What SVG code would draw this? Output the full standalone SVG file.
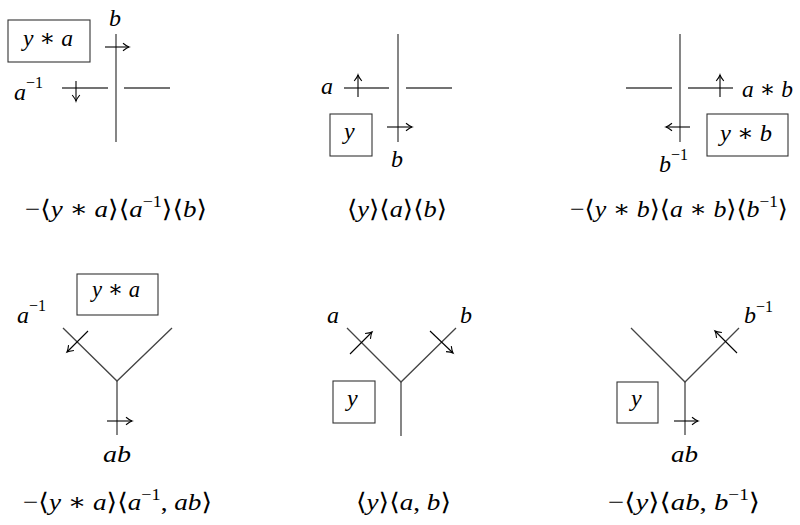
<svg xmlns="http://www.w3.org/2000/svg" width="800" height="525" viewBox="0 0 800 525">
<style>
text{font-family:"Liberation Serif","Times New Roman","DejaVu Serif",serif;font-size:24px;fill:#000}
.i{font-style:italic}
.sup{font-size:16px}
.ln{stroke:#444;stroke-width:1.3;fill:none}
.ar{stroke:#000;stroke-width:1.1;fill:none;marker-end:url(#ah)}
.bx{stroke:#333;stroke-width:1.1;fill:none}
</style>
<defs>
<marker id="ah" markerUnits="userSpaceOnUse" markerWidth="12" markerHeight="12" viewBox="-8 -6 10 12" refX="0" refY="0" orient="auto">
<path d="M-6,-3.8 Q-2,-0.6 0,0 Q-2,0.6 -6,3.8" stroke="#000" stroke-width="1.1" fill="none"/>
</marker>
</defs>
<rect width="800" height="525" fill="#fff"/>

<g id="connectors">
<line class="ln" x1="116" y1="34" x2="116" y2="142"/>
<line class="ln" x1="62" y1="88" x2="108" y2="88"/>
<line class="ln" x1="124" y1="88" x2="170" y2="88"/>
<line class="ar" x1="105" y1="47" x2="129" y2="47"/>
<line class="ar" x1="76" y1="81" x2="76" y2="101"/>
<line class="ln" x1="398" y1="34" x2="398" y2="142"/>
<line class="ln" x1="344" y1="88" x2="389" y2="88"/>
<line class="ln" x1="406" y1="88" x2="452" y2="88"/>
<line class="ar" x1="358" y1="97" x2="358" y2="75"/>
<line class="ar" x1="387" y1="127" x2="412" y2="127"/>
<line class="ln" x1="680" y1="34" x2="680" y2="142"/>
<line class="ln" x1="626" y1="88" x2="672" y2="88"/>
<line class="ln" x1="688" y1="88" x2="733" y2="88"/>
<line class="ar" x1="720" y1="97" x2="720" y2="75"/>
<line class="ar" x1="690" y1="127" x2="666" y2="127"/>
<polyline class="ln" points="63,328 117,381 172,328"/>
<line class="ln" x1="117" y1="381" x2="117" y2="435"/>
<line class="ar" x1="88" y1="331" x2="67" y2="352"/>
<line class="ar" x1="107" y1="421" x2="132" y2="421"/>
<polyline class="ln" points="347,328 401,382 456,328"/>
<line class="ln" x1="401" y1="382" x2="401" y2="436"/>
<line class="ar" x1="350" y1="354" x2="372" y2="332"/>
<line class="ar" x1="430" y1="331" x2="453" y2="353"/>
<polyline class="ln" points="631,328 685,382 739,328"/>
<line class="ln" x1="685" y1="382" x2="685" y2="435"/>
<line class="ar" x1="737" y1="353" x2="715" y2="331"/>
<line class="ar" x1="674" y1="421" x2="698" y2="421"/>
</g>

<g id="box1"><rect class="bx" x="8" y="20" width="82" height="42"/><text x="23" y="46" textLength="50" lengthAdjust="spacingAndGlyphs"><tspan class="i">y</tspan> ∗ <tspan class="i">a</tspan></text></g>
<g id="label1b"><text class="i" x="109" y="26">b</text></g>
<g id="label1a"><text x="14" y="100"><tspan class="i">a</tspan><tspan class="sup" dy="-12">−1</tspan></text></g>
<g id="formula1"><text x="25" y="217" textLength="182" lengthAdjust="spacingAndGlyphs">−⟨<tspan class="i">y</tspan> ∗ <tspan class="i">a</tspan>⟩⟨<tspan class="i">a</tspan><tspan class="sup" dy="-10">−1</tspan><tspan dy="10">⟩⟨</tspan><tspan class="i">b</tspan>⟩</text></g>

<g id="box2"><rect class="bx" x="330" y="114" width="42" height="42"/><text class="i" x="344" y="139">y</text></g>
<g id="label2a"><text class="i" x="321" y="94">a</text></g>
<g id="label2b"><text class="i" x="391" y="167">b</text></g>
<g id="formula2"><text x="347" y="217" textLength="100" lengthAdjust="spacingAndGlyphs">⟨<tspan class="i">y</tspan>⟩⟨<tspan class="i">a</tspan>⟩⟨<tspan class="i">b</tspan>⟩</text></g>

<g id="box3"><rect class="bx" x="707" y="114" width="81" height="42"/><text x="720" y="141" textLength="52" lengthAdjust="spacingAndGlyphs"><tspan class="i">y</tspan> ∗ <tspan class="i">b</tspan></text></g>
<g id="label3ab"><text x="742" y="97" textLength="51" lengthAdjust="spacingAndGlyphs"><tspan class="i">a</tspan> ∗ <tspan class="i">b</tspan></text></g>
<g id="label3b"><text x="659" y="172"><tspan class="i">b</tspan><tspan class="sup" dy="-12">−1</tspan></text></g>
<g id="formula3"><text x="570" y="217" textLength="218" lengthAdjust="spacingAndGlyphs">−⟨<tspan class="i">y</tspan> ∗ <tspan class="i">b</tspan>⟩⟨<tspan class="i">a</tspan> ∗ <tspan class="i">b</tspan>⟩⟨<tspan class="i">b</tspan><tspan class="sup" dy="-10">−1</tspan><tspan dy="10">⟩</tspan></text></g>

<g id="box4"><rect class="bx" x="77" y="274" width="81" height="41"/><text x="92" y="297" textLength="48" lengthAdjust="spacingAndGlyphs"><tspan class="i">y</tspan> ∗ <tspan class="i">a</tspan></text></g>
<g id="label4a"><text x="17" y="323"><tspan class="i">a</tspan><tspan class="sup" dy="-12">−1</tspan></text></g>
<g id="label4ab"><text class="i" x="103" y="462" textLength="28" lengthAdjust="spacingAndGlyphs">ab</text></g>
<g id="formula4"><text x="23" y="510" textLength="189" lengthAdjust="spacingAndGlyphs">−⟨<tspan class="i">y</tspan> ∗ <tspan class="i">a</tspan>⟩⟨<tspan class="i">a</tspan><tspan class="sup" dy="-10">−1</tspan><tspan dy="10">, </tspan><tspan class="i">ab</tspan>⟩</text></g>

<g id="box5"><rect class="bx" x="333" y="381" width="42" height="42"/><text class="i" x="347" y="406">y</text></g>
<g id="label5a"><text class="i" x="327" y="323">a</text></g>
<g id="label5b"><text class="i" x="460" y="323">b</text></g>
<g id="formula5"><text x="356" y="510" textLength="95" lengthAdjust="spacingAndGlyphs">⟨<tspan class="i">y</tspan>⟩⟨<tspan class="i">a</tspan>, <tspan class="i">b</tspan>⟩</text></g>

<g id="box6"><rect class="bx" x="617" y="382" width="41" height="41"/><text class="i" x="631" y="406">y</text></g>
<g id="label6b"><text x="744" y="323"><tspan class="i">b</tspan><tspan class="sup" dy="-11">−1</tspan></text></g>
<g id="label6ab"><text class="i" x="671" y="462" textLength="27" lengthAdjust="spacingAndGlyphs">ab</text></g>
<g id="formula6"><text x="608" y="510" textLength="152" lengthAdjust="spacingAndGlyphs">−⟨<tspan class="i">y</tspan>⟩⟨<tspan class="i">ab</tspan>, <tspan class="i">b</tspan><tspan class="sup" dy="-10">−1</tspan><tspan dy="10">⟩</tspan></text></g>
</svg>
